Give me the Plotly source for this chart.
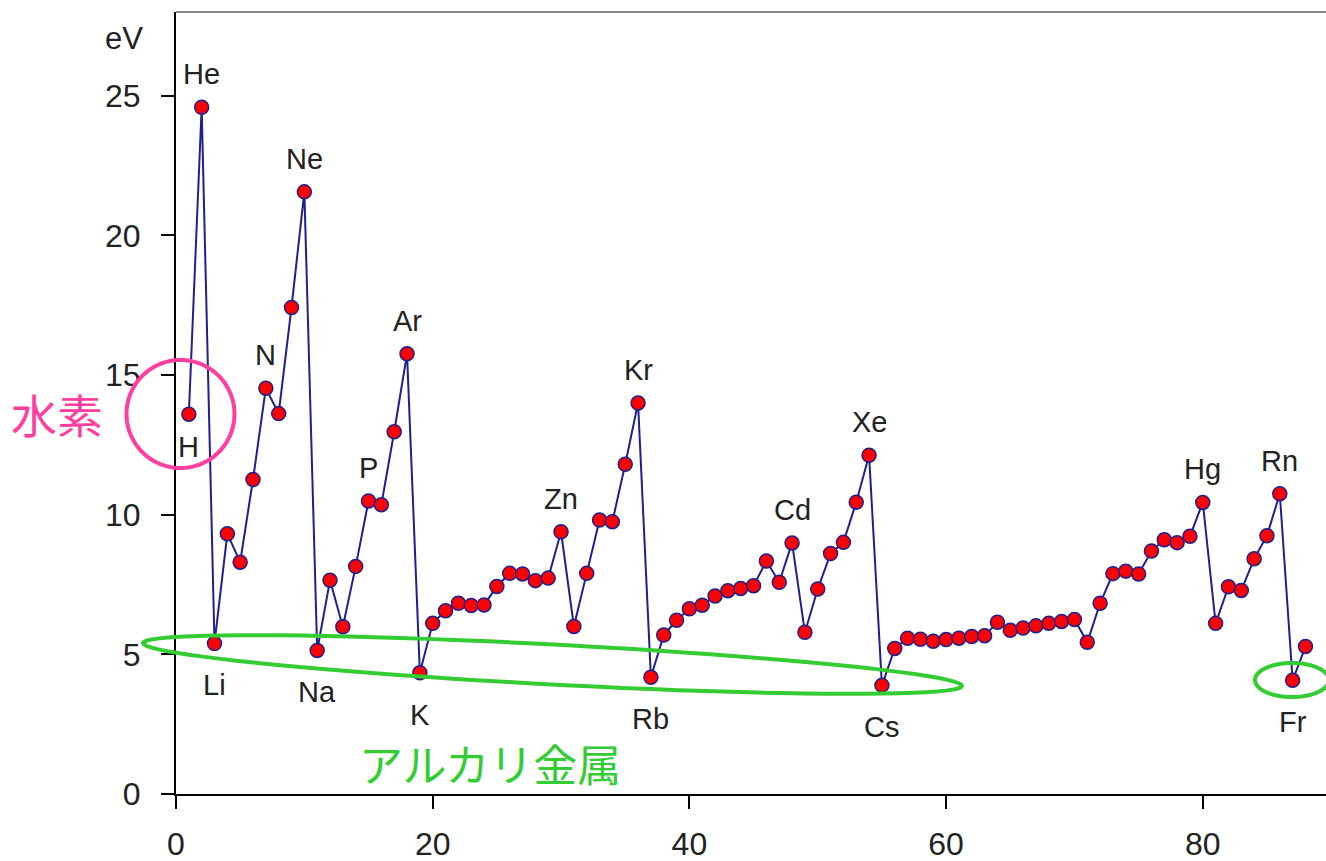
import math
import plotly.graph_objects as go

# ---------------- data ----------------
atomic_number = list(range(1, 89))
ionization_ev = [
    13.60, 24.59, 5.39, 9.32, 8.30, 11.26, 14.53, 13.62, 17.42, 21.56,
    5.14, 7.65, 5.99, 8.15, 10.49, 10.36, 12.97, 15.76, 4.34, 6.11,
    6.56, 6.83, 6.75, 6.77, 7.43, 7.90, 7.88, 7.64, 7.73, 9.39,
    6.00, 7.90, 9.81, 9.75, 11.81, 14.00, 4.18, 5.69, 6.22, 6.63,
    6.76, 7.09, 7.28, 7.36, 7.46, 8.34, 7.58, 8.99, 5.79, 7.34,
    8.61, 9.01, 10.45, 12.13, 3.89, 5.21, 5.58, 5.54, 5.47, 5.53,
    5.58, 5.64, 5.67, 6.15, 5.86, 5.94, 6.02, 6.11, 6.18, 6.25,
    5.43, 6.83, 7.89, 7.98, 7.88, 8.70, 9.10, 9.00, 9.23, 10.44,
    6.11, 7.42, 7.29, 8.42, 9.25, 10.75, 4.07, 5.28,
]
label_z = [1, 2, 3, 7, 10, 11, 15, 18, 19, 30, 36, 37, 48, 54, 55, 80, 86, 87]
label_text = ["H", "He", "Li", "N", "Ne", "Na", "P", "Ar", "K", "Zn", "Kr", "Rb",
              "Cd", "Xe", "Cs", "Hg", "Rn", "Fr"]
label_side = ["below", "above", "below", "above", "above", "below", "above", "above",
              "below", "above", "above", "below", "above", "above", "below", "above",
              "above", "below"]
x_ticks = [0, 20, 40, 60, 80]
y_ticks = [0, 5, 10, 15, 20, 25]
unit_label = "eV"
hydrogen_note = "水素"
alkali_note = "アルカリ金属"

# ---------------- layout geometry (screen pixels) ----------------
W, H = 1326, 861
X0, X1 = 176, 1326           # plot area left/right
Y0, Y1 = 12, 794             # plot area top/bottom
ML, MT = X0, Y0
MR = W - X1
MB = H - Y1
PW, PH = X1 - X0, Y1 - Y0
XR = [0, 89.6]
YR = [0, 28]


def ppx(X):  # pixel -> paper
    return (X - X0) / PW


def ppy(Y):
    return (Y1 - Y) / PH


def ellipse_path(cx, cy, a, b, ang_deg, n=90):
    t = math.radians(ang_deg)
    pts = []
    for i in range(n + 1):
        s = 2 * math.pi * i / n
        ex = a * math.cos(s)
        ey = b * math.sin(s)
        X = cx + ex * math.cos(t) - ey * math.sin(t)
        Y = cy + ex * math.sin(t) + ey * math.cos(t)
        pts.append((ppx(X), ppy(Y)))
    return "M " + " L ".join(f"{x:.5f},{y:.5f}" for x, y in pts) + " Z"


NAVY = "#1f1f8f"
TXT = "#222222"
FONT = "Liberation Sans, Arial, sans-serif"
CJK = "Noto Sans CJK JP, sans-serif"

fig = go.Figure()
fig.add_trace(go.Scatter(
    x=atomic_number, y=ionization_ev, mode="lines+markers",
    line=dict(color=NAVY, width=2),
    marker=dict(size=14, color="#ff0000", line=dict(color=NAVY, width=1.5)),
    cliponaxis=False, hoverinfo="x+y", showlegend=False,
))

annotations = []
for z, t, side in zip(label_z, label_text, label_side):
    v = ionization_ev[z - 1]
    if side == "above":
        shift = 33
    else:
        shift = -33 if t == "H" else -42
    annotations.append(dict(
        x=z, y=v, xref="x", yref="y", text=t, showarrow=False,
        xanchor="center", yanchor="middle",
        yshift=shift, font=dict(family=FONT, size=29, color=TXT),
    ))

annotations.append(dict(x=ppx(124), y=ppy(39), xref="paper", yref="paper",
                        text=unit_label, showarrow=False,
                        xanchor="center", yanchor="middle",
                        font=dict(family=FONT, size=31, color=TXT)))
annotations.append(dict(x=ppx(57), y=ppy(413), xref="paper", yref="paper",
                        text=hydrogen_note, showarrow=False,
                        xanchor="center", yanchor="middle",
                        font=dict(family=CJK, size=46, color="#ff3fa0")))
annotations.append(dict(x=ppx(490), y=ppy(763), xref="paper", yref="paper",
                        text=alkali_note, showarrow=False,
                        xanchor="center", yanchor="middle",
                        font=dict(family=CJK, size=44, color="#33cc33")))

shapes = [
    dict(type="line", xref="paper", yref="paper", x0=0, x1=1, y0=1, y1=1,
         line=dict(color="#8a8a8a", width=2)),
    dict(type="path", xref="paper", yref="paper",
         path=ellipse_path(180.5, 414, 54, 54, 0),
         line=dict(color="#ff3fa0", width=4)),
    dict(type="path", xref="paper", yref="paper",
         path=ellipse_path(552.5, 664.5, 410, 20, 3.0),
         line=dict(color="#33cc33", width=4)),
    dict(type="path", xref="paper", yref="paper",
         path=ellipse_path(1292, 680, 37, 17, 0),
         line=dict(color="#33cc33", width=4)),
]

fig.update_layout(
    width=W, height=H,
    margin=dict(l=ML, r=MR, t=MT, b=MB, pad=0, autoexpand=False),
    paper_bgcolor="white", plot_bgcolor="white",
    annotations=annotations, shapes=shapes,
    showlegend=False,
)
fig.update_xaxes(
    range=XR, tickvals=x_ticks, ticktext=[str(v) for v in x_ticks],
    showgrid=False, zeroline=False, showline=True, linecolor="black", linewidth=2,
    ticks="outside", ticklen=13, tickwidth=2, tickcolor="black", automargin=False,
    tickfont=dict(family=FONT, size=32, color=TXT), ticklabelstandoff=8,
)
fig.update_yaxes(
    range=YR, tickvals=y_ticks, ticktext=[str(v) for v in y_ticks],
    showgrid=False, zeroline=False, showline=True, linecolor="black", linewidth=2,
    ticks="outside", ticklen=13, tickwidth=2, tickcolor="black", automargin=False,
    tickfont=dict(family=FONT, size=32, color=TXT), ticklabelstandoff=14,
)

fig.write_html(
    "out.html",
    config={"displayModeBar": False},
    post_script="document.body.style.margin='0';"
                "document.documentElement.style.overflow='hidden';"
                "document.body.style.overflow='hidden';",
)
